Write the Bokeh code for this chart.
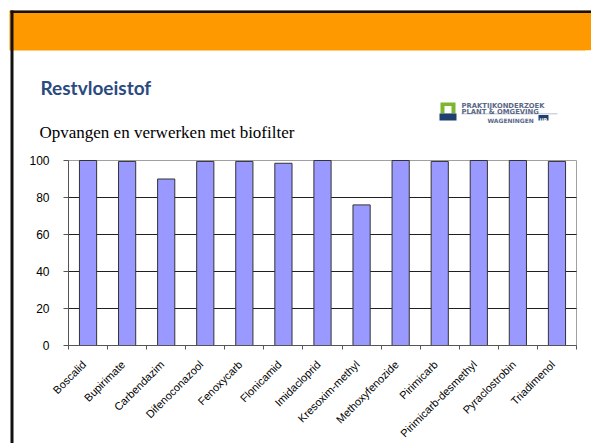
from math import pi
from bokeh.plotting import figure
from bokeh.models import Range1d, FixedTicker, LinearAxis
from bokeh.core.properties import value
from bokeh.embed import file_html
from bokeh.resources import INLINE

categories = ["Boscalid", "Bupirimate", "Carbendazim", "Difenoconazool", "Fenoxycarb",
              "Flonicamid", "Imidacloprid", "Kresoxim-methyl", "Methoxyfenozide",
              "Pirimicarb", "Pirimicarb-desmethyl", "Pyraclostrobin", "Triadimenol"]
values = [100, 99.5, 90, 99.5, 99.5, 98.5, 100, 76, 100, 99.5, 100, 100, 99.5]
y_ticks = [0, 20, 40, 60, 80, 100]
title_text = "Restvloeistof"
subtitle_text = "Opvangen en verwerken met biofilter"

W, H = 591, 443
PL, PR, PT, PB = 68, 576, 160, 345  # plot area in canvas pixels

n = len(categories)
ymax = y_ticks[-1]
xs = [i + 0.5 for i in range(n)]
kx = (PR - PL) / n
ky = (PB - PT) / ymax
label_shift = 4 / kx  # rotated label sits slightly left of the category centre

p = figure(width=W, height=H, x_range=Range1d(0, W), y_range=Range1d(H, 0),
           x_axis_type=None, y_axis_type=None,
           output_backend="svg", toolbar_location=None, min_border=0)
p.outline_line_color = None
p.outline_line_alpha = 0
p.background_fill_color = "white"
p.border_fill_color = "white"
p.extra_x_ranges = {"chart": Range1d(-PL / kx, n + (W - PR) / kx)}
p.extra_y_ranges = {"chart": Range1d(-(H - PB) / ky, ymax + PT / ky)}
C = dict(x_range_name="chart", y_range_name="chart")

# ---- slide decoration (canvas pixel coordinates) ----
p.quad(left=[9], right=[W], top=[10], bottom=[50], fill_color="#FF9900", line_color=None)
p.quad(left=[10, 10], right=[W, 13], top=[10, 10], bottom=[12.5, H],
       fill_color="#111111", line_color=None)
p.quad(left=[W - 6], right=[W], top=[50], bottom=[H], fill_color="white", line_color=None)
p.text(x=[40], y=[87], text=[title_text], text_font=value("Lato"), text_font_style="bold",
       text_font_size="19px", text_color="#2A4A80", text_baseline="alphabetic", text_align="left")
p.text(x=[39], y=[132], text=[subtitle_text], text_font=value("Liberation Serif"),
       text_font_size="17px", text_color="black", text_baseline="alphabetic", text_align="left")

# logo
p.quad(left=[440], right=[455], top=[102], bottom=[113], fill_color="#7DB52E", line_color=None)
p.quad(left=[444], right=[451], top=[105.5], bottom=[113], fill_color="white", line_color=None)
p.quad(left=[439], right=[456], top=[113], bottom=[120], fill_color="#1F3F6E", line_color=None)
p.quad(left=[461], right=[557], top=[113], bottom=[113.8], fill_color="#A0AAC0", line_color=None)
p.quad(left=[538], right=[548], top=[114.5], bottom=[120], fill_color="#1F3F6E", line_color=None)
p.text(x=[461, 461], y=[105.5, 111.5], text=["PRAKTIJKONDERZOEK", "PLANT & OMGEVING"],
       text_font=value("DejaVu Sans"), text_font_style="bold", text_font_size="6.8px",
       text_color="#5A6888", text_baseline="alphabetic", text_align="left")
p.text(x=[487], y=[120], text=["WAGENINGEN"], text_font=value("DejaVu Sans"), text_font_style="bold",
       text_font_size="6px", text_color="#5A6888", text_baseline="alphabetic", text_align="left")
p.text(x=[543], y=[119.5], text=["UR"], text_font=value("DejaVu Sans"), text_font_style="bold",
       text_font_size="5px", text_color="white", text_baseline="alphabetic", text_align="center")

# ---- chart ----
p.quad(left=[0], right=[n], bottom=[0], top=[ymax], fill_color="white",
       line_color="#A0A0A0", line_width=1, **C)
grid_ticks = y_ticks[1:-1]
p.segment(x0=[0] * len(grid_ticks), x1=[n] * len(grid_ticks), y0=grid_ticks, y1=grid_ticks,
          line_color="#202020", line_width=1, **C)
p.vbar(x=xs, top=values, bottom=0, width=0.44, fill_color="#9999FF",
       line_color="#333333", line_width=1, **C)

yax = LinearAxis(fixed_location=0, bounds=(0, ymax), ticker=FixedTicker(ticks=y_ticks), **C)
yax.major_tick_out = 5
yax.major_tick_in = 0
yax.minor_tick_line_color = None
yax.axis_line_color = "#555555"
yax.major_tick_line_color = "#555555"
yax.major_label_text_font = "Liberation Sans"
yax.major_label_text_font_size = "12px"
yax.major_label_text_color = "black"
yax.major_label_standoff = 14
p.add_layout(yax, "left")

label_pos = [x - label_shift for x in xs]
xax = LinearAxis(fixed_location=0, bounds=(0, n),
                 ticker=FixedTicker(ticks=label_pos, minor_ticks=list(range(n + 1))), **C)
xax.major_label_overrides = {x: c for x, c in zip(label_pos, categories)}
xax.major_tick_line_color = None
xax.major_tick_out = 0
xax.minor_tick_out = 4
xax.minor_tick_in = 0
xax.minor_tick_line_color = "#555555"
xax.axis_line_color = "#555555"
xax.major_label_orientation = pi / 4
xax.major_label_text_font = "Liberation Sans"
xax.major_label_text_font_size = "11px"
xax.major_label_text_color = "black"
xax.major_label_standoff = 13
p.add_layout(xax, "below")

open("out.html", "w").write(file_html(p, INLINE))
